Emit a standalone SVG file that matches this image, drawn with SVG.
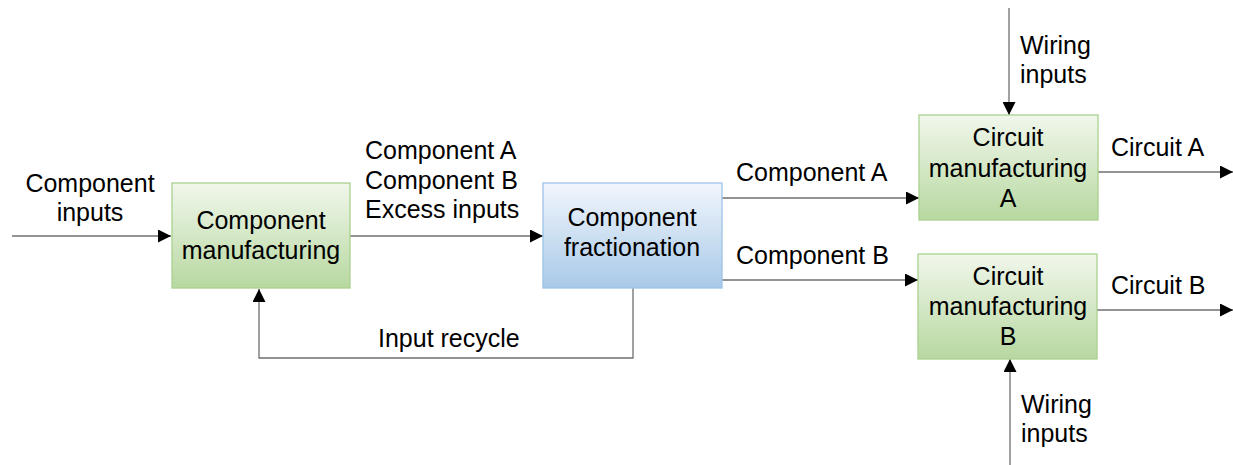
<svg xmlns="http://www.w3.org/2000/svg" width="1233" height="465" viewBox="0 0 1233 465">
<style>
text{font-family:"Liberation Sans",Arial,sans-serif;font-size:25px;fill:#000}
.c{text-anchor:middle}
.ln{fill:none;stroke:#6f6f6f;stroke-width:1.3}
.g{fill:url(#gg);stroke:#a9d18e;stroke-width:1.3}
.b{fill:url(#bg);stroke:#9dc3e6;stroke-width:1.3}
</style>
<defs>
<linearGradient id="gg" x1="0" y1="0" x2="0" y2="1"><stop offset="0" stop-color="#f1f7ec"/><stop offset="1" stop-color="#b7d8a0"/></linearGradient>
<linearGradient id="bg" x1="0" y1="0" x2="0" y2="1"><stop offset="0" stop-color="#f1f6fc"/><stop offset="1" stop-color="#a9c9e8"/></linearGradient>
<marker id="ar" viewBox="0 0 10 10" refX="10" refY="5" markerWidth="13" markerHeight="13" markerUnits="userSpaceOnUse" orient="auto"><path d="M0,0 L10,5 L0,10 Z" fill="#000"/></marker>
</defs>
<rect width="1233" height="465" fill="#fff"/>
<g id="connectors">
<path class="ln" d="M12,236 H171" marker-end="url(#ar)"/>
<path class="ln" d="M350,236 H543" marker-end="url(#ar)"/>
<path class="ln" d="M722,198 H919" marker-end="url(#ar)"/>
<path class="ln" d="M722,280 H918" marker-end="url(#ar)"/>
<path class="ln" d="M633,288 V358 H259 V289" marker-end="url(#ar)"/>
<path class="ln" d="M1098,172 H1233" marker-end="url(#ar)"/>
<path class="ln" d="M1097,310 H1233" marker-end="url(#ar)"/>
<path class="ln" d="M1009,8 V115" marker-end="url(#ar)"/>
<path class="ln" d="M1010,465 V359" marker-end="url(#ar)"/>
<text x="90" y="192" class="c">Component</text>
<text x="90" y="221" class="c">inputs</text>
<text x="365" y="159">Component A</text>
<text x="365" y="189">Component B</text>
<text x="365" y="218">Excess inputs</text>
<text x="736" y="181">Component A</text>
<text x="736" y="264">Component B</text>
<text x="1111" y="156">Circuit A</text>
<text x="1111" y="294">Circuit B</text>
<text x="1020" y="54">Wiring</text>
<text x="1020" y="83">inputs</text>
<text x="1021" y="413">Wiring</text>
<text x="1021" y="442">inputs</text>
<text x="378" y="347">Input recycle</text>
</g>
<g id="component-manufacturing">
<rect class="g" x="172" y="183" width="178" height="105"/>
<text x="261" y="229" class="c">Component</text>
<text x="261" y="259" class="c">manufacturing</text>
</g>
<g id="component-fractionation">
<rect class="b" x="543" y="183" width="179" height="105"/>
<text x="632" y="226" class="c">Component</text>
<text x="632" y="256" class="c">fractionation</text>
</g>
<g id="circuit-a">
<rect class="g" x="919" y="115" width="179" height="105"/>
<text x="1008" y="146" class="c">Circuit</text>
<text x="1008" y="177" class="c">manufacturing</text>
<text x="1008" y="207" class="c">A</text>
</g>
<g id="circuit-b">
<rect class="g" x="918" y="254" width="179" height="105"/>
<text x="1008" y="285" class="c">Circuit</text>
<text x="1008" y="315" class="c">manufacturing</text>
<text x="1008" y="345" class="c">B</text>
</g>
</svg>
